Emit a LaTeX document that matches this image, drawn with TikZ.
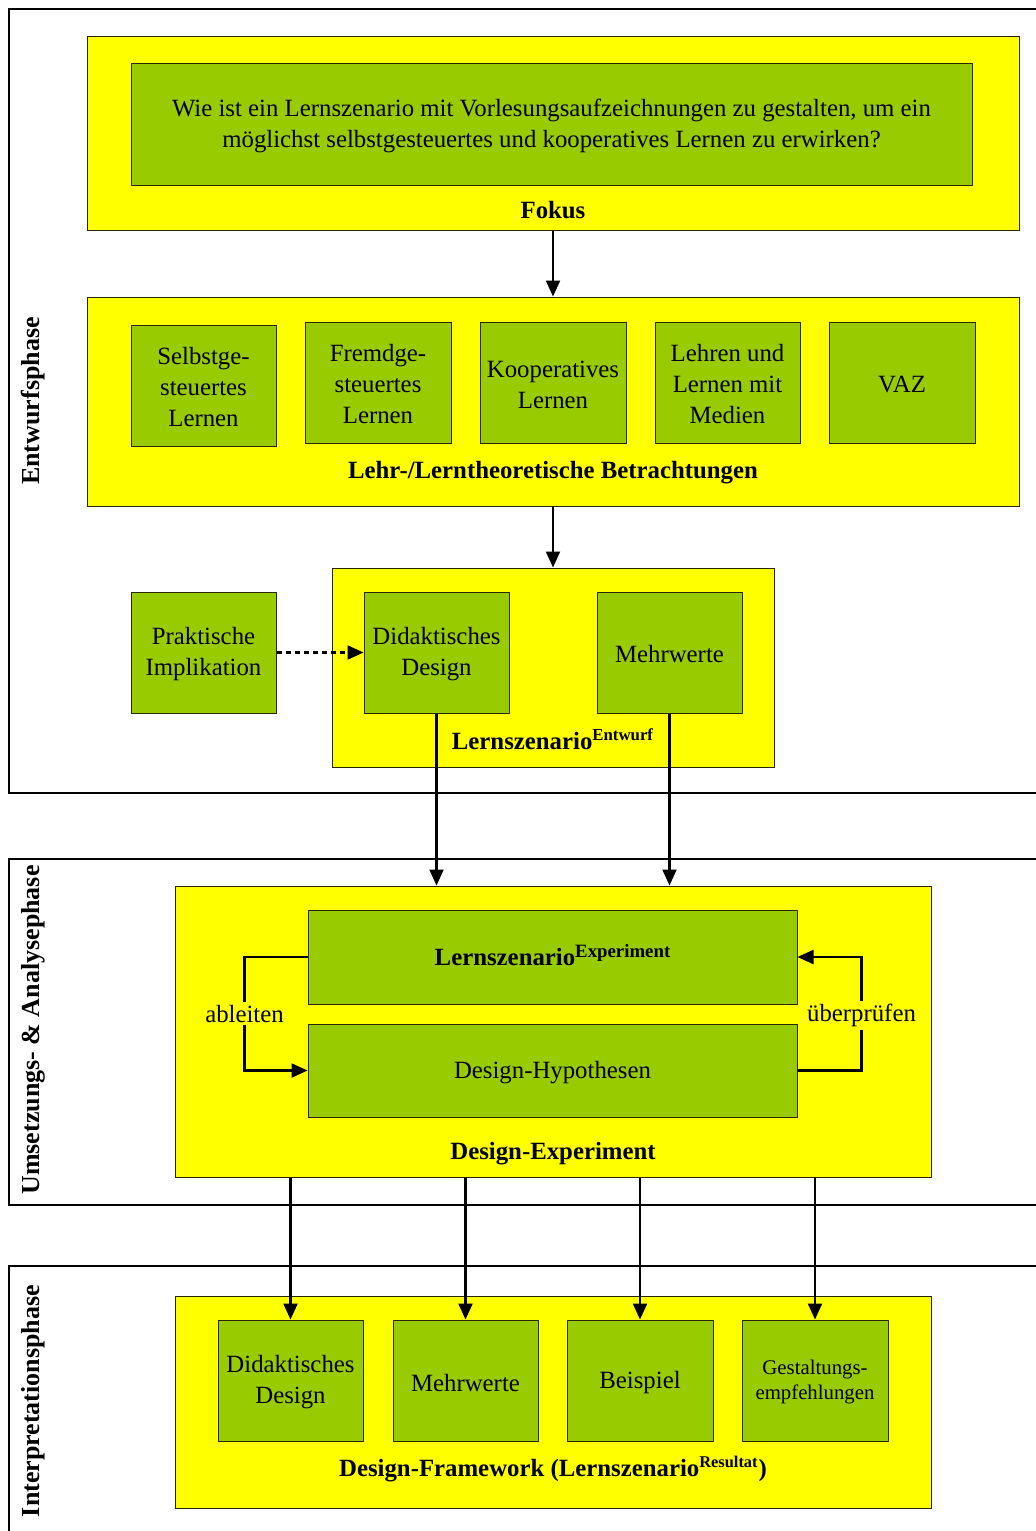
\documentclass[tikz,border=0pt]{standalone}
\usepackage{fontspec}
\setmainfont{Liberation Serif}
\usetikzlibrary{fit,arrows.meta,shadows}
\definecolor{lemon}{RGB}{255,255,0}
\definecolor{leaf}{RGB}{153,204,0}
\definecolor{rim}{RGB}{40,40,0}

\begin{document}
\begin{tikzpicture}[x=0.5pt,y=-0.5pt,
  txt/.style={font=\fontsize{12.4}{15.5}\selectfont, align=center, inner sep=0pt},
  cardtxt/.style={txt, yshift=-1pt},
  smalltxt/.style={font=\fontsize{10.4}{12.5}\selectfont, align=center, inner sep=0pt, yshift=-1pt},
  lbl/.style={font=\fontsize{12.4}{14}\selectfont\bfseries, inner sep=0pt},
  boxshadow/.style={drop shadow={shadow xshift=0.7pt,shadow yshift=-0.7pt,fill=black!45,opacity=0.8}},
  panel/.style={draw=rim, line width=0.5pt, fill=lemon, inner sep=0pt, boxshadow},
  card/.style={draw=rim, line width=0.5pt, fill=leaf, inner sep=0pt, boxshadow},
  phase/.style={draw=black, line width=1.1pt},
  arr/.style={line width=1.1pt, -{Triangle[length=8pt,width=7pt]}},
  phaselbl/.style={rotate=90, font=\fontsize{13}{15}\selectfont\bfseries}]

\useasboundingbox (0,0) rectangle (1036,1531);
\clip (0,0) rectangle (1036,1531);

% phase frames (open to the right)
\draw[phase] (1045,9) -- (9,9) -- (9,793) -- (1045,793);
\draw[phase] (1045,859) -- (9,859) -- (9,1205) -- (1045,1205);
\draw[phase] (1045,1266) -- (9,1266) -- (9,1545);
\node[phaselbl] (ph1) at (33,401) {Entwurfsphase};
\node[phaselbl] (ph2) at (33,1030) {Umsetzungs- \& Analysephase};
\node[phaselbl] (ph3) at (33,1401) {Interpretationsphase};

% --- Entwurfsphase ---
\node[panel, fit={(87,36) (1019,230)}] (fokus) {};
\node[card, fit={(131,63) (972,185)}] (frage) {};
\node[cardtxt] (fragetxt) at (frage)
  {Wie ist ein Lernszenario mit Vorlesungsaufzeichnungen zu gestalten, um ein\\
   möglichst selbstgesteuertes und kooperatives Lernen zu erwirken?};
\node[lbl] (fokuslbl) at (553,210) {Fokus};

\node[panel, fit={(87,297) (1019,506)}] (theorie) {};
\node[card, fit={(131,325) (276,446)}] (t1) {};
\node[card, fit={(305,322) (451,443)}] (t2) {};
\node[card, fit={(480,322) (626,443)}] (t3) {};
\node[card, fit={(655,322) (800,443)}] (t4) {};
\node[card, fit={(829,322) (975,443)}] (t5) {};
\node[cardtxt] (t1txt) at (t1) {Selbstge-\\steuertes\\Lernen};
\node[cardtxt] (t2txt) at (t2) {Fremdge-\\steuertes\\Lernen};
\node[cardtxt] (t3txt) at (t3) {Kooperatives\\Lernen};
\node[cardtxt] (t4txt) at (t4) {Lehren und\\Lernen mit\\Medien};
\node[cardtxt] (t5txt) at (t5) {VAZ};
\node[lbl] (theorielbl) at (553,473) {Lehr-/Lerntheoretische Betrachtungen};

\node[panel, fit={(332,568) (774,767)}] (entwurf) {};
\node[card, fit={(131,592) (276,713)}] (prakt) {};
\node[card, fit={(364,592) (509,713)}] (didak) {};
\node[card, fit={(597,592) (742,713)}] (mehr) {};
\node[cardtxt] (prakttxt) at (prakt) {Praktische\\Implikation};
\node[cardtxt] (didaktxt) at (didak) {Didaktisches\\Design};
\node[cardtxt] (mehrtxt) at (mehr) {Mehrwerte};
\node[lbl] (entwurflbl) at (553,739) {Lernszenario\textsuperscript{\fontsize{8.4}{9}\selectfont Entwurf}};

\draw[arr] (fokus.south) -- (theorie.north);
\draw[arr] (theorie.south) -- (entwurf.north);
\draw[arr, dash pattern=on 2.5pt off 2pt] (prakt.east) -- (didak.west);

% --- Umsetzungs- & Analysephase ---
\node[panel, fit={(175,886) (931,1177)}] (dexp) {};
\node[card, fit={(308,910) (797,1004)}] (lexp) {};
\node[card, fit={(308,1024) (797,1117)}] (hyp) {};
\node[txt, font=\fontsize{12.4}{15.5}\selectfont\bfseries] (lexptxt) at (553,955)
  {Lernszenario\textsuperscript{\fontsize{9.4}{10}\selectfont\bfseries Experiment}};
\node[cardtxt] (hyptxt) at (hyp) {Design-Hypothesen};
\node[lbl] (dexplbl) at (553,1154) {Design-Experiment};

\draw[arr] (didak.south) -- (didak.south |- dexp.north);
\draw[arr] (mehr.south) -- (mehr.south |- dexp.north);

\draw[arr] (lexp.west) -- ++(-63,0) |- node[pos=0.25, fill=lemon, txt, inner sep=1.5pt] (ablbl) {ableiten} (hyp.west);
\draw[arr] (hyp.east) -- ++(64,0) |- node[pos=0.25, fill=lemon, txt, inner sep=1.5pt, yshift=-1pt] (uplbl) {überprüfen} (lexp.east);

% --- Interpretationsphase ---
\node[panel, fit={(175,1296) (931,1508)}] (frame) {};
\node[card, fit={(218,1320) (363,1441)}] (r1) {};
\node[card, fit={(393,1320) (538,1441)}] (r2) {};
\node[card, fit={(567,1320) (713,1441)}] (r3) {};
\node[card, fit={(742,1320) (888,1441)}] (r4) {};
\node[cardtxt] (r1txt) at (r1) {Didaktisches\\Design};
\node[cardtxt] (r2txt) at (r2) {Mehrwerte};
\node[cardtxt] (r3txt) at (r3) {Beispiel};
\node[smalltxt] (r4txt) at (r4) {Gestaltungs-\\empfehlungen};
\node[lbl] (framelbl) at (553,1469) {Design-Framework (Lernszenario\textsuperscript{\fontsize{8.2}{9}\selectfont Resultat})};

\foreach \r in {r1,r2,r3,r4}
  \draw[arr] (\r.north |- dexp.south) -- (\r.north);
\end{tikzpicture}
\end{document}
